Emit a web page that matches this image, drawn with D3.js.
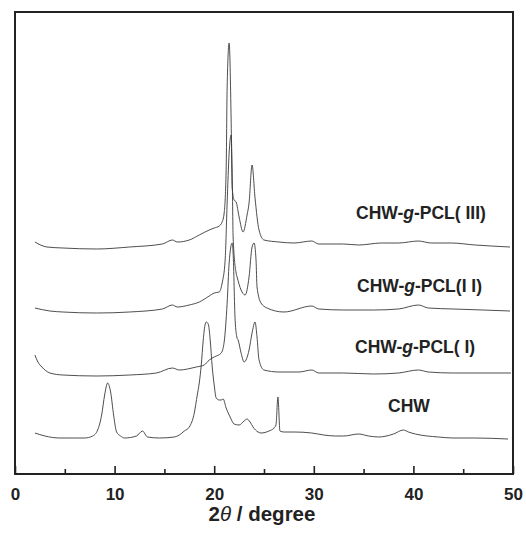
<!DOCTYPE html>
<html>
<head>
<meta charset="utf-8">
<script src="https://cdn.jsdelivr.net/npm/d3@7"></script>
<style>
  body { margin: 0; background: #fff; }
  .trace { fill: none; stroke: #3a3a3a; stroke-width: 0.9; stroke-linejoin: round; }
  .lbl { font-family: "Liberation Sans", Arial, sans-serif; font-weight: bold; fill: #222; }
</style>
</head>
<body>
<div id="container"></div>
<script>
// 2theta (degree) and intensity (a.u.)
const chwX = [2.0, 3.0, 4.5, 6.0, 7.0, 7.8, 8.3, 8.7, 9.0, 9.3, 9.6, 9.9, 10.2, 10.6, 11.0, 12.2, 12.8, 13.3, 14.5, 16.0, 16.5, 17.0, 17.5, 18.0, 18.3, 18.5, 18.7, 18.9, 19.0, 19.2, 19.4, 19.6, 19.8, 20.0, 20.2, 20.5, 20.7, 20.9, 21.2, 21.6, 22.0, 22.5, 23.0, 23.3, 23.6, 23.9, 24.4, 24.7, 25.5, 26.0, 26.2, 26.4, 26.6, 27.0, 28.0, 29.8, 31.0, 32.2, 33.0, 34.5, 35.5, 36.5, 38.0, 39.0, 39.5, 40.2, 42.5, 44.0, 46.2, 49.5];
const chwY = [41, 38, 36, 36, 36, 38, 44, 59, 79, 91, 82, 59, 42, 38, 36, 38, 43, 37, 36, 37, 39, 43, 47, 61, 79, 91, 109, 134, 144, 152, 150, 134, 107, 89, 76, 74, 74, 75, 66, 57, 50, 49, 53, 55, 52, 47, 42, 41, 43, 46, 49, 77, 43, 42, 42, 41, 39, 38, 38, 40, 38, 37, 40, 44, 42, 40, 37, 36, 36, 35];

const pcl1X = [2.0, 2.3, 2.7, 3.5, 4.8, 8.2, 11.5, 14.2, 15.8, 16.5, 18.2, 19.0, 19.5, 20.0, 20.7, 21.0, 21.3, 21.5, 21.8, 21.9, 22.1, 22.3, 22.4, 22.7, 23.0, 23.5, 23.8, 24.1, 24.3, 24.5, 25.0, 26.5, 28.5, 29.8, 30.5, 33.0, 36.0, 38.5, 40.5, 41.5, 44.0, 47.0, 49.8];
const pcl1Y = [55, 48, 43, 37, 35, 34, 35, 37, 42, 40, 43, 45, 50, 53, 57, 68, 107, 147, 167, 157, 90, 72, 70, 57, 48, 60, 77, 88, 73, 50, 40, 38, 38, 40, 37, 37, 36, 37, 40, 38, 37, 37, 37];

const pcl2X = [2.0, 3.5, 4.8, 8.2, 11.5, 14.8, 15.8, 16.3, 17.5, 18.5, 19.5, 20.0, 20.5, 20.8, 21.1, 21.3, 21.5, 21.7, 21.8, 21.9, 22.2, 22.3, 22.7, 23.1, 23.5, 23.8, 24.0, 24.2, 24.3, 24.7, 25.3, 27.0, 29.8, 30.5, 33.0, 36.0, 38.5, 40.5, 41.5, 44.0, 47.0, 49.7];
const pcl2Y = [38, 35, 34, 33, 34, 37, 41, 39, 41, 44, 50, 53, 54, 63, 86, 143, 193, 211, 176, 109, 73, 69, 56, 51, 69, 99, 103, 86, 59, 43, 38, 34, 40, 37, 36, 36, 37, 41, 38, 37, 36, 35];

const pcl3X = [2.0, 3.2, 4.8, 8.2, 11.5, 14.8, 15.8, 16.3, 17.5, 18.5, 19.5, 20.0, 20.5, 20.8, 21.0, 21.2, 21.3, 21.5, 21.7, 21.8, 22.0, 22.2, 22.5, 22.9, 23.3, 23.5, 23.8, 24.1, 24.5, 25.0, 26.5, 28.0, 29.8, 30.5, 33.0, 34.5, 36.8, 38.5, 40.5, 41.8, 43.8, 46.2, 49.7];
const pcl3Y = [40, 35, 34, 33, 35, 38, 42, 40, 42, 47, 52, 54, 56, 60, 69, 112, 195, 239, 162, 95, 82, 80, 65, 50, 67, 79, 117, 84, 52, 42, 40, 39, 41, 38, 38, 37, 39, 39, 41, 39, 39, 37, 35];

const seriesNames = ["CHW", "CHW-g-PCL( I)", "CHW-g-PCL(I I)", "CHW-g-PCL( III)"];
const seriesOffsets = [0, 64, 128, 192];
const xTicks = [0, 10, 20, 30, 40, 50];
const xMinorTicks = [5, 15, 25, 35, 45];

document.addEventListener("DOMContentLoaded", function () {

  //-----------------------------[prep]SVG------------------------------//
  const width = 526;
  const height = 533;
  const left = 15, right = 513, top = 12, bottom = 474;

  const svg = d3.select("#container").append("svg")
    .attr("width", width)
    .attr("height", height);

  //----------------------------[prep]SCALES-----------------------------//
  const xScale = d3.scaleLinear().domain([0, 50]).range([left, right]);
  const yScale = d3.scaleLinear().domain([0, bottom - top]).range([bottom, top]);

  const slices = [
    { name: seriesNames[0], xs: chwX, ys: chwY, off: seriesOffsets[0], lx: 388, ly: 412 },
    { name: seriesNames[1], xs: pcl1X, ys: pcl1Y, off: seriesOffsets[1], lx: 355, ly: 353 },
    { name: seriesNames[2], xs: pcl2X, ys: pcl2Y, off: seriesOffsets[2], lx: 357, ly: 292 },
    { name: seriesNames[3], xs: pcl3X, ys: pcl3Y, off: seriesOffsets[3], lx: 356, ly: 219 }
  ].map(function (s) {
    s.values = s.xs.map(function (x, i) { return { x: x, y: s.ys[i] + s.off }; });
    return s;
  });

  const line = d3.line()
    .curve(d3.curveMonotoneX)
    .x(function (d) { return xScale(d.x); })
    .y(function (d) { return yScale(d.y); });

  //----------------------------[drawing]LINES------------------------------//
  svg.selectAll(".trace")
    .data(slices)
    .enter()
    .append("path")
    .attr("class", "trace")
    .attr("d", function (d) { return line(d.values); });

  //----------------------------[drawing]LABELS-----------------------------//
  slices.forEach(function (s) {
    const t = svg.append("text")
      .attr("class", "lbl")
      .attr("x", s.lx)
      .attr("y", s.ly)
      .style("font-size", "17.5px");
    const m = s.name.match(/^(CHW)(-g-)?(.*)$/);
    t.append("tspan").text(m[1]);
    if (m[2]) {
      t.append("tspan").text("-");
      t.append("tspan").style("font-style", "italic").text("g");
      t.append("tspan").text("-" + m[3]);
    }
  });

  //-----------------------------[drawing]AXES------------------------------//
  const xAxis = d3.axisBottom(xScale)
    .tickValues(xTicks)
    .tickSize(-8)
    .tickPadding(14);

  const gx = svg.append("g")
    .attr("transform", "translate(0," + bottom + ")")
    .call(xAxis);
  gx.select(".domain").remove();
  gx.selectAll(".tick line").attr("stroke", "#222").attr("stroke-width", 1.6);
  gx.selectAll(".tick text")
    .attr("class", "lbl")
    .style("font-size", "17px");

  const gm = svg.append("g")
    .attr("transform", "translate(0," + bottom + ")")
    .call(d3.axisBottom(xScale).tickValues(xMinorTicks).tickSize(-5).tickFormat(""));
  gm.select(".domain").remove();
  gm.selectAll(".tick line").attr("stroke", "#222").attr("stroke-width", 1.6);

  // frame
  svg.append("rect")
    .attr("x", left)
    .attr("y", top)
    .attr("width", right - left)
    .attr("height", bottom - top)
    .attr("fill", "none")
    .attr("stroke", "#222")
    .attr("stroke-width", 2);

  // axis title
  const title = svg.append("text")
    .attr("class", "lbl")
    .attr("x", (left + right) / 2 - 2)
    .attr("y", 521)
    .attr("text-anchor", "middle")
    .style("font-size", "20.5px");
  title.append("tspan").text("2");
  title.append("tspan").style("font-style", "italic").style("font-weight", "normal").text("θ");
  title.append("tspan").text(" / degree");

});
</script>
</body>
</html>
